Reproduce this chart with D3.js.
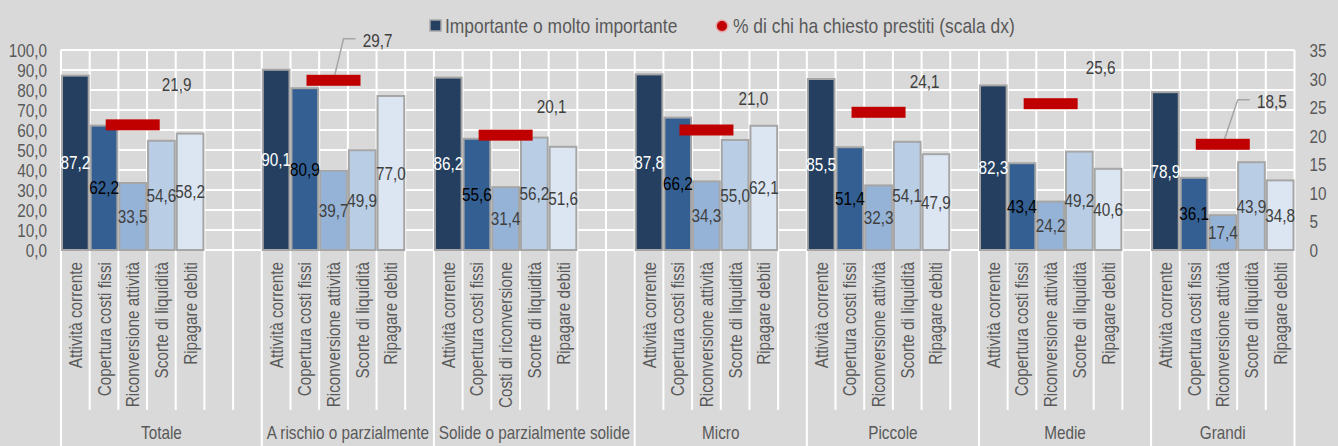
<!DOCTYPE html>
<html>
<head>
<meta charset="utf-8">
<script src="https://cdn.jsdelivr.net/npm/d3@7"></script>
<style>
  html, body { margin: 0; padding: 0; background: #d9d9d9; }
  svg { display: block; }
  text { font-family: "Liberation Sans", Arial, sans-serif; }
</style>
</head>
<body>
<svg id="chart" width="1338" height="446"></svg>
<script>
// ---------- DATA ----------
const groups = ["Totale", "A rischio o parzialmente", "Solide o parzialmente solide", "Micro", "Piccole", "Medie", "Grandi"];
const groupSlots = [7, 6, 7, 6, 6, 6, 5]; // categories per group (including empty ones)
const itemsDefault = ["Attività corrente", "Copertura costi fissi", "Riconversione attività", "Scorte di liquidità", "Ripagare debiti"];
const itemsSolide = ["Attività corrente", "Copertura costi fissi", "Costi di riconversione", "Scorte di liquidità", "Ripagare debiti"];
const attivitaCorrente = [87.2, 90.1, 86.2, 87.8, 85.5, 82.3, 78.9];
const coperturaCosti   = [62.2, 80.9, 55.6, 66.2, 51.4, 43.4, 36.1];
const riconversione    = [33.5, 39.7, 31.4, 34.3, 32.3, 24.2, 17.4];
const scorteLiquidita  = [54.6, 49.9, 56.2, 55.0, 54.1, 49.2, 43.9];
const ripagareDebiti   = [58.2, 77.0, 51.6, 62.1, 47.9, 40.6, 34.8];
const prestiti = [21.9, 29.7, 20.1, 21.0, 24.1, 25.6, 18.5];
const leftTicks = [0, 10, 20, 30, 40, 50, 60, 70, 80, 90, 100];
const rightTicks = [0, 5, 10, 15, 20, 25, 30, 35];
const legendLabels = ["Importante o molto importante", "% di chi ha chiesto prestiti (scala dx)"];

// ---------- LAYOUT / STYLE ----------
const redLabelOffset = [[44, -40], [44, -40], [46, -29], [47, -32], [46, -31], [50, -36], [49, -43]];
const leaderGroups = [1, 6];
const seriesColors = ["#243f60", "#335f92", "#95b3d7", "#b9cde5", "#dce6f2"];
const labelColors = ["#ffffff", "#000000", "#404040", "#404040", "#404040"];
const FONT = 18;
const NX = 0.85; // horizontal condensing (narrow font look)

const series = [attivitaCorrente, coperturaCosti, riconversione, scorteLiquidita, ripagareDebiti];
const itemsFor = g => (g === 2 ? itemsSolide : itemsDefault);

function narrow(sel) {
  sel.each(function () {
    const t = d3.select(this);
    const xx = +t.attr("x") || 0, yy = +t.attr("y") || 0;
    t.attr("x", 0).attr("y", 0).attr("transform", `translate(${xx},${yy}) scale(${NX},1)`);
  });
}

// categories
const cats = [];
groups.forEach((g, gi) => {
  for (let k = 0; k < groupSlots[gi]; k++) {
    cats.push({ key: gi + "-" + k, group: gi, idx: k, label: k < 5 ? itemsFor(gi)[k] : "" });
  }
});

const svg = d3.select("#chart");
const pLeft = 61, pRight = 1294.5, pTop = 50, pBottom = 250;
const x = d3.scaleBand().domain(cats.map(c => c.key)).range([pLeft, pRight]).paddingInner(0).paddingOuter(0);
const yL = d3.scaleLinear().domain([0, 100]).range([pBottom, pTop]);
const yR = d3.scaleLinear().domain([0, 35]).range([pBottom, pTop]);
const bw = x.bandwidth();
const it = d3.formatLocale({ decimal: ",", thousands: ".", grouping: [3], currency: ["", "€"] });
const f1 = it.format(".1f");

// gridlines horizontal
svg.append("g").selectAll("line").data(leftTicks).join("line")
  .attr("x1", pLeft).attr("x2", pRight)
  .attr("y1", d => yL(d)).attr("y2", d => yL(d))
  .attr("stroke", "#ffffff").attr("stroke-width", 2);

// vertical lines at category boundaries
const bounds = cats.map(c => x(c.key)).concat([pRight]);
const groupStarts = new Set();
{ let s = 0; groupSlots.forEach(n => { groupStarts.add(s); s += n; }); groupStarts.add(s); }
svg.append("g").selectAll("line").data(bounds).join("line")
  .attr("x1", d => d).attr("x2", d => d)
  .attr("y1", pTop)
  .attr("y2", (d, i) => groupStarts.has(i) ? 446 : 410)
  .attr("stroke", "#ffffff").attr("stroke-width", 2);

// bars
const barData = [];
cats.forEach(c => { if (c.idx < 5) barData.push({ key: c.key, s: c.idx, v: series[c.idx][c.group] }); });
svg.append("g").selectAll("rect").data(barData).join("rect")
  .attr("x", d => x(d.key) + 1)
  .attr("width", bw - 2)
  .attr("y", d => yL(d.v))
  .attr("height", d => yL(0) - yL(d.v))
  .attr("fill", d => seriesColors[d.s])
  .attr("stroke", "#a6a6a6").attr("stroke-width", 2);

// bar labels
svg.append("g").selectAll("text").data(barData).join("text")
  .attr("x", d => x(d.key) + bw / 2)
  .attr("y", d => yL(d.v / 2) + 6.5)
  .attr("text-anchor", "middle")
  .attr("font-size", FONT)
  .attr("fill", d => labelColors[d.s])
  .text(d => f1(d.v))
  .call(narrow);

// red markers
const redData = prestiti.map((v, gi) => {
  const key = gi + "-2";
  return { gi, v, cx: x(key) + bw / 2, cy: yR(v) };
});
// leader lines
svg.append("g").selectAll("polyline").data(redData.filter(d => leaderGroups.includes(d.gi))).join("polyline")
  .attr("points", d => {
    const lx = d.cx + redLabelOffset[d.gi][0], ly = d.cy + redLabelOffset[d.gi][1];
    return [[d.cx, d.cy], [lx - 34, ly - 1.5], [lx - 22, ly - 1.5]].map(p => p.join(",")).join(" ");
  })
  .attr("fill", "none").attr("stroke", "#a6a6a6").attr("stroke-width", 1.5);
svg.append("g").selectAll("rect").data(redData).join("rect")
  .attr("x", d => d.cx - 27).attr("width", 54)
  .attr("y", d => d.cy - 5.5).attr("height", 11)
  .attr("fill", "#c00000");
svg.append("g").selectAll("text").data(redData).join("text")
  .attr("x", d => d.cx + redLabelOffset[d.gi][0])
  .attr("y", d => d.cy + redLabelOffset[d.gi][1] + 6.5)
  .attr("text-anchor", "middle")
  .attr("font-size", FONT)
  .attr("fill", "#404040")
  .text(d => f1(d.v))
  .call(narrow);

// left axis
const axL = svg.append("g").attr("transform", `translate(${pLeft},0)`)
  .call(d3.axisLeft(yL).tickValues(leftTicks).tickFormat(f1).tickSize(0).tickPadding(14));
axL.select(".domain").remove();
axL.attr("font-family", null).attr("font-size", null);
axL.selectAll("text").attr("font-size", FONT).attr("fill", "#595959").attr("dy", null)
  .attr("y", 6.5).call(narrow);

// right axis
const axR = svg.append("g").attr("transform", `translate(${pRight},0)`)
  .call(d3.axisRight(yR).tickValues(rightTicks).tickFormat(d3.format("d")).tickSize(0).tickPadding(15));
axR.select(".domain").remove();
axR.attr("font-family", null).attr("font-size", null);
axR.selectAll("text").attr("font-size", FONT).attr("fill", "#595959").attr("dy", null)
  .attr("y", 6.5).call(narrow);

// category labels (rotated)
svg.append("g").selectAll("text").data(cats.filter(c => c.label)).join("text")
  .attr("transform", c => `translate(${x(c.key) + bw / 2 + 6.5},262) rotate(-90) scale(${NX},1)`)
  .attr("text-anchor", "end")
  .attr("font-size", FONT)
  .attr("fill", "#595959")
  .text(c => c.label);

// group labels
const groupPos = [];
{ let s = 0; groupSlots.forEach((n, gi) => {
  const a = x(cats[s].key), b = (s + n < cats.length) ? x(cats[s + n].key) : pRight;
  groupPos.push({ name: groups[gi], cx: (a + b) / 2 }); s += n; }); }
svg.append("g").selectAll("text").data(groupPos).join("text")
  .attr("x", d => d.cx).attr("y", 439)
  .attr("text-anchor", "middle")
  .attr("font-size", FONT)
  .attr("fill", "#595959")
  .text(d => d.name)
  .call(narrow);

// legend
const lg = svg.append("g");
lg.append("rect").attr("x", 430).attr("y", 20).attr("width", 11).attr("height", 11)
  .attr("fill", seriesColors[0]).attr("stroke", "#a6a6a6").attr("stroke-width", 1.5);
lg.append("text").attr("x", 445).attr("y", 32.5).attr("font-size", 20.5)
  .attr("fill", "#595959").text(legendLabels[0]).call(narrow);
lg.append("circle").attr("cx", 722).attr("cy", 26).attr("r", 6.5).attr("fill", "#e88a8a").attr("opacity", 0.7);
lg.append("circle").attr("cx", 722).attr("cy", 26).attr("r", 5).attr("fill", "#c00000");
lg.append("text").attr("x", 733).attr("y", 32.5).attr("font-size", 20.5)
  .attr("fill", "#595959").text(legendLabels[1]).call(narrow);
</script>
</body>
</html>
